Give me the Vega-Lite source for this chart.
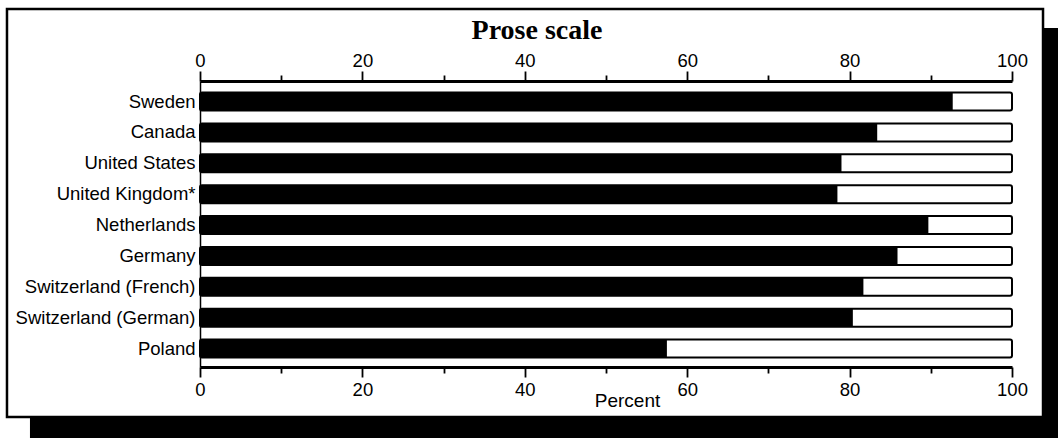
{
  "$schema": "https://vega.github.io/schema/vega-lite/v6.json",
  "width": 812,
  "height": 286,
  "autosize": {"type": "none"},
  "padding": {"left": 200, "top": 81, "right": 46, "bottom": 71},
  "background": "white",
  "config": {"view": {"stroke": null}, "font": "Liberation Sans", "axis": {"grid": false}},
  "title": {"text": "Prose scale", "font": "Liberation Serif", "fontSize": 28, "fontWeight": "bold", "color": "black", "anchor": "middle", "frame": "group", "dx": -69, "offset": -37},
  "data": {"values": [
    {"country": "Sweden", "percent": 92.7},
    {"country": "Canada", "percent": 83.4},
    {"country": "United States", "percent": 79.0},
    {"country": "United Kingdom*", "percent": 78.5},
    {"country": "Netherlands", "percent": 89.7},
    {"country": "Germany", "percent": 85.9},
    {"country": "Switzerland (French)", "percent": 81.7},
    {"country": "Switzerland (German)", "percent": 80.4},
    {"country": "Poland", "percent": 57.5}
  ]},
  "layer": [
    {
      "data": {"values": [{"part": "shadow"}]},
      "mark": {"type": "rect", "fill": "black"},
      "encoding": {
        "x": {"datum": -20.94, "type": "quantitative", "scale": {"domain": [0, 100], "nice": false, "zero": false},
              "axis": {"orient": "top", "zindex": 1, "values": [10, 30, 50, 70, 90], "labels": false, "domain": false, "tickSize": 6, "tickWidth": 1.8, "tickColor": "black", "title": null}},
        "x2": {"datum": 110},
        "y": {"datum": 1.1853, "type": "quantitative", "scale": {"domain": [0, 1], "nice": false, "zero": false}, "axis": null},
        "y2": {"datum": -0.3}
      }
    },
    {
      "data": {"values": [{"part": "frame"}]},
      "mark": {"type": "rect", "fill": "white", "stroke": "black", "strokeWidth": 2.5},
      "encoding": {
        "x": {"datum": -23.77, "type": "quantitative", "scale": {"domain": [0, 100], "nice": false, "zero": false},
              "axis": {"orient": "bottom", "zindex": 1, "values": [10, 30, 50, 70, 90], "labels": false, "domain": false, "tickSize": 6, "tickWidth": 1.8, "tickColor": "black", "title": null}},
        "x2": {"datum": 103.82},
        "y": {"datum": 1.2517, "type": "quantitative", "scale": {"domain": [0, 1], "nice": false, "zero": false}, "axis": null},
        "y2": {"datum": -0.1748}
      }
    },
    {
      "mark": {"type": "bar", "fill": "white", "stroke": "black", "strokeWidth": 2, "cornerRadius": 2},
      "encoding": {
        "x": {"datum": 0, "type": "quantitative", "scale": {"domain": [0, 100], "nice": false, "zero": false},
              "axis": {"orient": "top", "zindex": 1, "values": [0, 20, 40, 60, 80, 100], "tickSize": 10, "tickWidth": 1.8, "tickColor": "black", "domainColor": "black", "domainWidth": 3, "labelFont": "Liberation Sans", "labelFontSize": 18.5, "labelColor": "black", "labelPadding": 1, "labelFlush": false, "labelOverlap": false, "title": null}},
        "x2": {"datum": 100},
        "y": {"field": "country", "type": "nominal", "sort": null,
              "scale": {"paddingInner": 0.417, "paddingOuter": 0.34, "align": 0.55},
              "axis": {"orient": "left", "zindex": 1, "title": null, "ticks": false, "domain": true, "domainColor": "black", "domainWidth": 1.5, "labelFont": "Liberation Sans", "labelFontSize": 18.5, "labelColor": "black", "labelPadding": 5}}
      }
    },
    {
      "mark": {"type": "bar", "fill": "black"},
      "encoding": {
        "x": {"field": "percent", "type": "quantitative", "scale": {"domain": [0, 100], "nice": false, "zero": false},
              "axis": {"orient": "bottom", "zindex": 1, "values": [0, 20, 40, 60, 80, 100], "tickSize": 10, "tickWidth": 1.8, "tickColor": "black", "domainColor": "black", "domainWidth": 3, "labelFont": "Liberation Sans", "labelFontSize": 18.5, "labelColor": "black", "labelPadding": 3, "labelFlush": false, "labelOverlap": false,
                       "title": "Percent", "titleFont": "Liberation Sans", "titleFontSize": 19, "titleFontWeight": "normal", "titleColor": "black", "titleX": 427, "titleY": 39, "titleAlign": "center", "titleBaseline": "alphabetic"}},
        "x2": {"datum": 0},
        "y": {"field": "country", "type": "nominal", "sort": null,
              "scale": {"paddingInner": 0.417, "paddingOuter": 0.34, "align": 0.55},
              "axis": null}
      }
    }
  ],
  "resolve": {"scale": {"y": "independent"}, "axis": {"x": "independent"}}
}
